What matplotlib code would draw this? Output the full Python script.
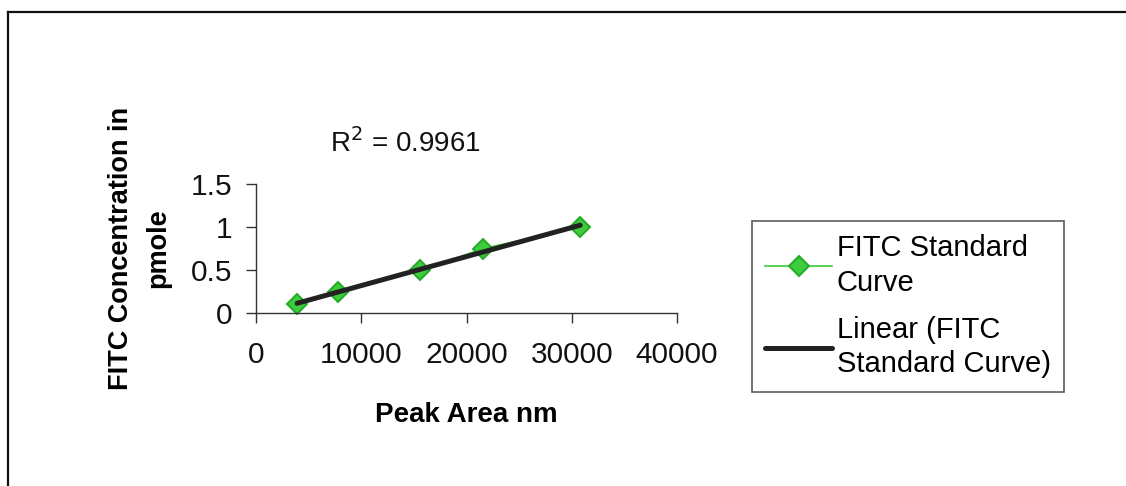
import numpy as np
import matplotlib
matplotlib.use('Agg')
import matplotlib.pyplot as plt
from matplotlib.lines import Line2D

plt.rcParams['font.family'] = ['Liberation Sans', 'DejaVu Sans']

# Standard curve readings (peak area vs. FITC amount)
peak_area = [3900, 7800, 15600, 21600, 30800]
fitc_pmole = [0.10, 0.25, 0.50, 0.75, 1.00]
r2_label = 'R$^2$ = 0.9961'
x_ticks = [0, 10000, 20000, 30000, 40000]
y_ticks = [0, 0.5, 1, 1.5]
y_tick_labels = ['0', '0.5', '1', '1.5']
series_label = 'FITC Standard\nCurve'
trend_label = 'Linear (FITC\nStandard Curve)'

GREEN = '#3ccc3c'
GREEN_EDGE = '#25a825'
SPINE = '#333333'

fig = plt.figure(figsize=(11.26, 4.86), dpi=100)
ax = fig.add_axes([0.2274, 0.356, 0.3739, 0.265])

ax.plot(peak_area, fitc_pmole, color=GREEN, lw=1.2, marker='D', ms=10.5,
        markerfacecolor=GREEN, markeredgecolor=GREEN_EDGE, markeredgewidth=1.4,
        label=series_label, zorder=2, clip_on=False)

# least-squares trendline across the data range
slope, intercept = np.polyfit(peak_area, fitc_pmole, 1)
xs = np.array([min(peak_area), max(peak_area)])
ax.plot(xs, slope * xs + intercept, color='#222222', lw=3.6, solid_capstyle='round',
        label=trend_label, zorder=3)

ax.set_xlim(x_ticks[0], x_ticks[-1])
ax.set_ylim(y_ticks[0], y_ticks[-1])
ax.set_xticks(x_ticks)
ax.set_xticklabels([str(v) for v in x_ticks])
ax.set_yticks(y_ticks)
ax.set_yticklabels(y_tick_labels)
ax.tick_params(axis='both', direction='out', length=7, width=1, colors=SPINE,
               labelcolor='#111111', labelsize=21.5)
ax.tick_params(axis='x', pad=13)
ax.tick_params(axis='y', pad=10)

for side in ('top', 'right'):
    ax.spines[side].set_visible(False)
for side in ('left', 'bottom'):
    ax.spines[side].set_color(SPINE)
    ax.spines[side].set_linewidth(1)

ax.set_xlabel('Peak Area nm', fontsize=20, fontweight='bold', labelpad=24)
ax.set_ylabel('FITC Concentration in\npmole', fontsize=19.5, fontweight='bold',
              labelpad=14, linespacing=1.55)

ax.text(7000, 1.87, r2_label, fontsize=20, color='#111111', ha='left',
        va='baseline', clip_on=False)

leg = fig.legend(loc='upper left', bbox_to_anchor=(0.668, 0.545), borderaxespad=0,
                 prop={'size': 21}, frameon=True, fancybox=False, shadow=False,
                 handlelength=2.3, handletextpad=0.15, borderpad=0.45,
                 labelspacing=0.65)
leg.get_frame().set_edgecolor('#333333')
leg.get_frame().set_linewidth(1.2)
for t in leg.get_texts():
    t.set_linespacing(1.3)

# outer chart-area border (only top and left fall inside the scan)
fig.add_artist(Line2D([8 / 1126, 8 / 1126], [-0.05, 1 - 12 / 486],
                      transform=fig.transFigure, color='#111111', lw=1.6))
fig.add_artist(Line2D([8 / 1126, 1.05], [1 - 12 / 486, 1 - 12 / 486],
                      transform=fig.transFigure, color='#111111', lw=1.6))

fig.savefig('out.png', dpi=100)
